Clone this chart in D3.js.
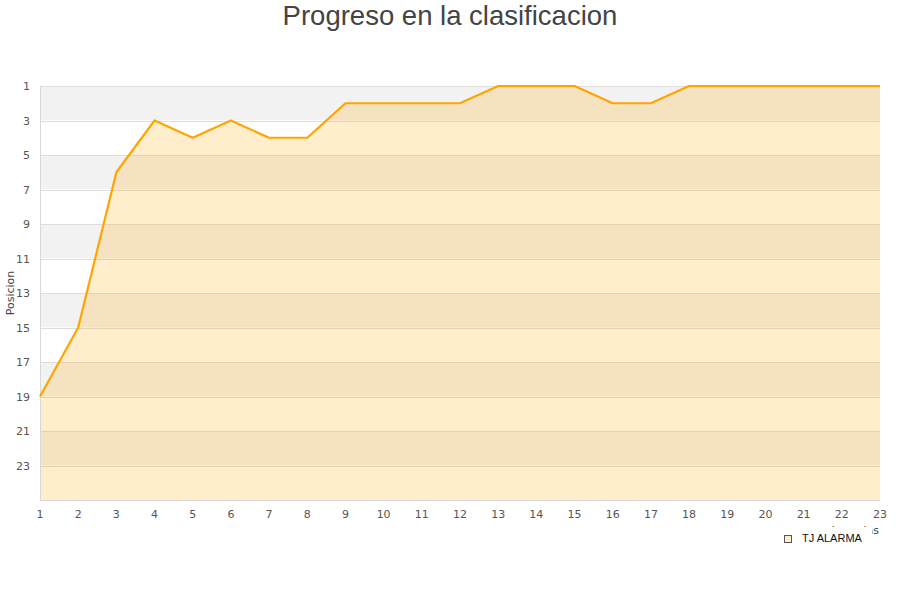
<!DOCTYPE html>
<html><head><meta charset="utf-8">
<script src="https://cdn.jsdelivr.net/npm/d3@7"></script>
<style>body{margin:0;background:#fff}svg{display:block}</style>
</head><body>
<script>
const jornadas = [1,2,3,4,5,6,7,8,9,10,11,12,13,14,15,16,17,18,19,20,21,22,23];
const posiciones = [19,15,6,3,4,3,4,4,2,2,2,2,1,1,1,2,2,1,1,1,1,1,1];
const yTicks = [1,3,5,7,9,11,13,15,17,19,21,23];
const serieNombre = "TJ ALARMA";
const titulo = "Progreso en la clasificacion";

const W = 900, H = 600;
const m = {l:40, r:880, t:86, b:500};
const svg = d3.select("body").append("svg").attr("width", W).attr("height", H);

const x = d3.scaleLinear().domain([1,23]).range([m.l, m.r]);
const y = d3.scaleLinear().domain([1,25]).range([m.t, m.b]);

// alternating bands
const bands = d3.range(1, 25, 2);
svg.selectAll("rect.band").data(bands).enter().append("rect")
  .attr("x", m.l).attr("width", m.r - m.l)
  .attr("y", d => y(d)).attr("height", d => y(d+2) - y(d))
  .attr("fill", (d,i) => i % 2 === 0 ? "#f2f2f2" : "#ffffff");

// grid lines
svg.selectAll("line.grid").data(yTicks).enter().append("line")
  .attr("x1", m.l).attr("x2", m.r)
  .attr("y1", d => Math.round(y(d)) + 0.5).attr("y2", d => Math.round(y(d)) + 0.5)
  .attr("stroke", "#dddddd").attr("stroke-width", 1);

// area
const area = d3.area().x((d,i) => x(jornadas[i])).y0(y(25)).y1(d => y(d));
svg.append("path").datum(posiciones).attr("d", area)
  .attr("fill", "rgba(255,165,0,0.2)");

// axes lines
svg.append("line").attr("x1", m.l + 0.5).attr("x2", m.l + 0.5).attr("y1", m.t).attr("y2", m.b)
  .attr("stroke", "#d8d8d8");
svg.append("line").attr("x1", m.l).attr("x2", m.r).attr("y1", m.b + 0.5).attr("y2", m.b + 0.5)
  .attr("stroke", "#d8d8d8");

// line
const line = d3.line().x((d,i) => x(jornadas[i])).y(d => y(d));
svg.append("path").datum(posiciones).attr("d", line)
  .attr("fill", "none").attr("stroke", "#ffa500").attr("stroke-width", 2.2)
  .attr("stroke-linejoin", "round");

// y tick labels
svg.selectAll("text.yt").data(yTicks).enter().append("text")
  .attr("x", 30).attr("y", d => y(d) + 4)
  .attr("text-anchor", "end")
  .attr("font-family", "DejaVu Sans").attr("font-size", 11).attr("fill", "#555")
  .text(d => d);

// x tick labels
svg.selectAll("text.xt").data(jornadas).enter().append("text")
  .attr("x", d => x(d)).attr("y", 518)
  .attr("text-anchor", "middle")
  .attr("font-family", "DejaVu Sans").attr("font-size", 11).attr("fill", "#555")
  .text(d => d);

// y axis title
svg.append("text").attr("transform", "translate(14,293) rotate(-90)")
  .attr("text-anchor", "middle")
  .attr("font-family", "DejaVu Sans").attr("font-size", 11).attr("fill", "#444")
  .text("Posicion");

// x axis title (mostly hidden behind legend)
svg.append("text").attr("x", 879).attr("y", 534)
  .attr("text-anchor", "end")
  .attr("font-family", "DejaVu Sans").attr("font-size", 11).attr("fill", "#444")
  .text("Jornadas");

// legend
const lg = svg.append("g");
lg.append("rect").attr("x", 775).attr("y", 527).attr("width", 97).attr("height", 24).attr("fill", "#fff");
lg.append("rect").attr("x", 784.5).attr("y", 535.5).attr("width", 7).attr("height", 7)
  .attr("fill", "#ffecc8").attr("stroke", "#555").attr("stroke-width", 1);
lg.append("text").attr("x", 802).attr("y", 542)
  .attr("font-family", "Liberation Sans").attr("font-size", 11).attr("fill", "#111")
  .text(serieNombre);

// title
svg.append("text").attr("x", 450).attr("y", 25)
  .attr("text-anchor", "middle")
  .attr("font-family", "Liberation Sans").attr("font-size", 27.5).attr("fill", "#444")
  .text(titulo);
</script>
</body></html>
